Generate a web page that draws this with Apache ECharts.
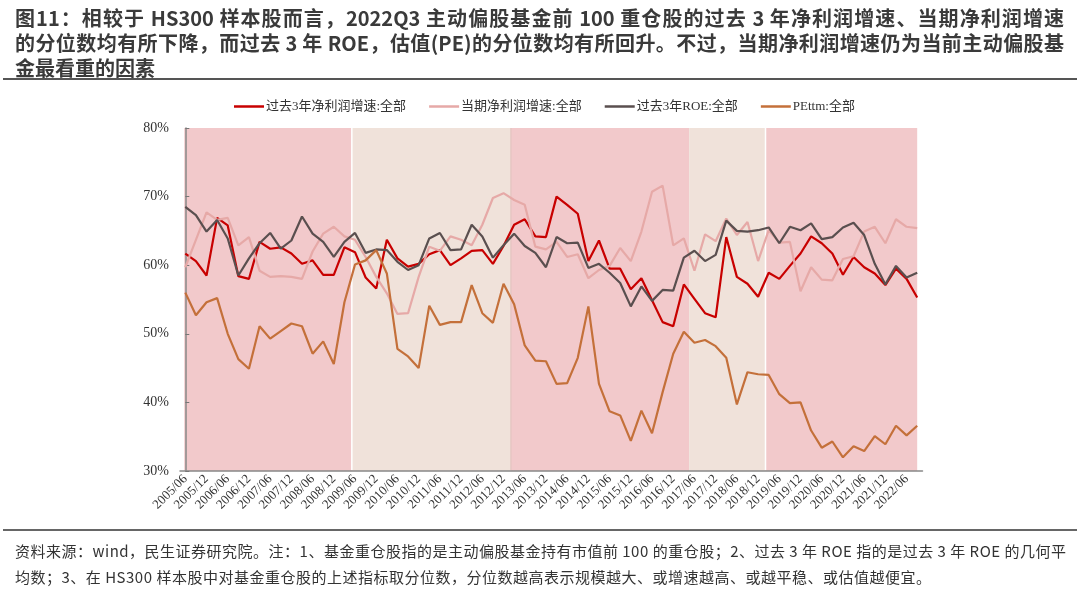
<!DOCTYPE html>
<html>
<head>
<meta charset="utf-8">
<script src="https://cdn.jsdelivr.net/npm/echarts@6/dist/echarts.min.js"></script>
<style>
  html, body { margin: 0; padding: 0; background: #fff; }
  #wrap { position: relative; width: 1080px; height: 590px; overflow: hidden; }
  #chart { position: absolute; left: 0; top: 0; width: 1080px; height: 590px; }
  #title { position: absolute; left: 15px; top: 5px; width: 1049px; font-family: "Noto Sans CJK SC", "Noto Sans", sans-serif; font-weight: bold; font-size: 20px; line-height: 25px; color: #3a3a3a; white-space: nowrap; }
  #title .j { text-align: justify; text-align-last: justify; white-space: normal; }
  #rule1 { position: absolute; left: 3px; width: 1074px; top: 78px; height: 2px; background: #555; }
  #rule2 { position: absolute; left: 3px; width: 1074px; top: 529px; height: 2px; background: #666; }
  #note { position: absolute; left: 15px; top: 538px; font-family: "Noto Sans CJK SC", "Noto Sans", sans-serif; font-size: 15px; line-height: 26px; letter-spacing: 0.5px; color: #333; white-space: nowrap; }
</style>
</head>
<body>
<div id="wrap">
  <div id="chart"></div>
  <div id="title"><div class="j">图11：相较于 HS300 样本股而言，2022Q3 主动偏股基金前 100 重仓股的过去 3 年净利润增速、当期净利润增速</div><div class="j">的分位数均有所下降，而过去 3 年 ROE，估值(PE)的分位数均有所回升。不过，当期净利润增速仍为当前主动偏股基</div><div>金最看重的因素</div></div>
  <div id="rule1"></div>
  <div id="rule2"></div>
  <div id="note">资料来源：wind，民生证券研究院。注：1、基金重仓股指的是主动偏股基金持有市值前 100 的重仓股；2、过去 3 年 ROE 指的是过去 3 年 ROE 的几何平<br>均数；3、在 HS300 样本股中对基金重仓股的上述指标取分位数，分位数越高表示规模越大、或增速越高、或越平稳、或估值越便宜。</div>
</div>
<script>
// ---- data ----
var categories = [
  "2005/06","2005/09","2005/12","2006/03","2006/06","2006/09","2006/12","2007/03","2007/06","2007/09",
  "2007/12","2008/03","2008/06","2008/09","2008/12","2009/03","2009/06","2009/09","2009/12","2010/03",
  "2010/06","2010/09","2010/12","2011/03","2011/06","2011/09","2011/12","2012/03","2012/06","2012/09",
  "2012/12","2013/03","2013/06","2013/09","2013/12","2014/03","2014/06","2014/09","2014/12","2015/03",
  "2015/06","2015/09","2015/12","2016/03","2016/06","2016/09","2016/12","2017/03","2017/06","2017/09",
  "2017/12","2018/03","2018/06","2018/09","2018/12","2019/03","2019/06","2019/09","2019/12","2020/03",
  "2020/06","2020/09","2020/12","2021/03","2021/06","2021/09","2021/12","2022/03","2022/06","2022/09"
];
var seriesNames = ["过去3年净利润增速:全部", "当期净利润增速:全部", "过去3年ROE:全部", "PEttm:全部"];

var profitGrowth3Y = [
  61.7,60.6,58.5,66.9,65.8,58.4,58.0,63.4,62.4,62.6,
  61.7,60.2,60.7,58.6,58.6,62.6,61.9,58.2,56.6,63.7,
  61.0,59.8,60.2,61.6,62.2,60.0,61.0,62.1,62.2,60.2,
  62.8,65.9,66.7,64.2,64.1,70.0,68.8,67.5,60.6,63.6,
  59.5,59.5,56.5,58.1,54.9,51.7,51.1,57.2,55.1,53.0,
  52.4,64.1,58.3,57.3,55.4,58.9,58.0,59.9,61.7,64.2,
  63.2,61.7,58.6,61.2,59.7,58.8,57.1,59.5,58.0,55.3
];
var profitGrowthCur = [
  59.7,63.7,67.7,66.6,66.9,62.9,64.1,59.2,58.3,58.4,
  58.3,58.0,62.0,64.6,65.6,64.2,63.7,61.2,58.3,55.9,
  52.9,53.0,58.3,62.7,62.1,64.2,63.7,62.9,65.9,69.8,
  70.5,69.5,68.8,62.7,62.3,63.4,61.2,61.6,58.1,59.3,
  59.9,62.5,60.6,64.9,70.7,71.6,62.9,63.9,59.2,64.5,
  63.5,66.8,64.4,66.3,60.6,65.1,63.3,63.4,56.2,59.7,
  57.9,57.8,60.9,61.3,64.9,65.6,63.2,66.7,65.6,65.4
];
var roe3Y = [
  68.5,67.3,64.9,66.6,63.9,58.5,61.0,63.2,64.7,62.4,
  63.6,67.1,64.6,63.4,61.2,63.4,64.7,61.8,62.3,62.2,
  60.5,59.3,60.0,63.9,64.7,62.2,62.3,65.9,64.2,61.1,
  62.9,64.6,62.8,61.8,59.7,64.1,63.2,63.3,59.6,60.2,
  58.9,57.4,54.0,56.9,54.8,56.4,56.3,61.1,62.1,60.6,
  61.5,66.5,65.0,64.9,65.1,65.5,63.2,65.6,65.1,66.1,
  63.8,64.1,65.5,66.2,64.4,60.2,57.2,59.9,58.2,58.9
];
var peTTM = [
  56.0,52.7,54.6,55.2,50.0,46.3,44.9,51.1,49.3,50.4,
  51.5,51.1,47.1,48.9,45.6,54.6,60.1,60.7,62.2,58.8,
  47.8,46.7,45.0,54.1,51.3,51.7,51.7,57.1,53.0,51.6,
  57.3,54.3,48.3,46.1,46.0,42.7,42.8,46.5,54.0,42.7,
  38.7,38.1,34.4,38.8,35.5,41.5,47.1,50.3,48.7,49.1,
  48.2,46.5,39.7,44.4,44.1,44.0,41.2,39.9,40.0,35.9,
  33.4,34.3,32.0,33.6,32.9,35.1,33.9,36.6,35.2,36.6
];
// shaded periods (category index positions), kind 0 = pink, 1 = beige
var bandFrom = [-0.1, 15.7, 30.7, 47.5, 54.7];
var bandTo   = [15.7, 30.7, 47.5, 54.7, 69.0];
var bandKind = [0, 1, 0, 1, 0];
var yTicks = [30, 40, 50, 60, 70, 80];

// ---- chart ----
var bandColors = ['#f2c9cb', '#f0e2da'];
var sepColors = [null, '#ffffff', '#e6c6c3', null, '#ffffff'];
var bandData = bandFrom.map(function (f, i) { return [f, bandTo[i], bandKind[i], i]; });
var lineColors = ['#c80000', '#e6a9a7', '#5a4f4f', '#c4703a'];
var serif = '"Liberation Serif", "DejaVu Serif", "Noto Sans CJK SC", serif';

var chart = echarts.init(document.getElementById('chart'), null, { renderer: 'canvas' });
var seriesData = [profitGrowth3Y, profitGrowthCur, roe3Y, peTTM];
var lineSeries = seriesNames.map(function (n, k) {
  return {
    name: n, type: 'line', data: seriesData[k], symbol: 'none', smooth: false,
    lineStyle: { width: 2.2, color: lineColors[k] }, itemStyle: { color: lineColors[k] },
    z: 3
  };
});
var option = {
  animation: false,
  backgroundColor: 'transparent',
  legend: {
    data: seriesNames, left: 229, top: 95, icon: 'rect', itemWidth: 30, itemHeight: 2.5, itemGap: 23,
    textStyle: { fontFamily: serif, fontSize: 13, color: '#333', padding: [0, 0, 0, -3] }
  },
  grid: { left: 180, top: 128, width: 742.5, height: 343, containLabel: false },
  xAxis: [{
    type: 'category', data: categories, boundaryGap: true,
    axisLine: { lineStyle: { color: '#888', width: 1.5 } },
    axisTick: { inside: true, length: 4, interval: 0, lineStyle: { color: '#777' } },
    axisLabel: { interval: 1, rotate: 45, fontFamily: serif, fontSize: 13, color: '#333', margin: 6 },
    splitLine: { show: false }
  }, {
    type: 'value', min: -0.5, max: 69.5, show: false
  }],
  yAxis: {
    type: 'value', min: yTicks[0], max: yTicks[yTicks.length - 1], interval: 10,
    axisLine: { show: true, lineStyle: { color: '#888', width: 1.5 } },
    axisTick: { show: true, inside: true, length: 4, lineStyle: { color: '#777' } },
    axisLabel: { formatter: '{value}%', fontFamily: serif, fontSize: 14, color: '#333', margin: 11 },
    splitLine: { show: false }
  },
  series: [{
    type: 'custom', xAxisIndex: 1, yAxisIndex: 0, z: -1, silent: true, clip: true,
    data: bandData,
    encode: { x: [0, 1] },
    renderItem: function (params, api) {
      var p0 = api.coord([api.value(0), yTicks[yTicks.length - 1]]);
      var p1 = api.coord([api.value(1), yTicks[0]]);
      var idx = api.value(3);
      var children = [{
        type: 'rect',
        shape: { x: p0[0], y: p0[1], width: p1[0] - p0[0], height: p1[1] - p0[1] },
        style: { fill: bandColors[api.value(2)] }
      }];
      if (sepColors[idx]) {
        children.push({
          type: 'line',
          shape: { x1: p0[0], y1: p0[1], x2: p0[0], y2: p1[1] - 1 },
          style: { stroke: sepColors[idx], lineWidth: 1.5 }
        });
      }
      return { type: 'group', children: children };
    }
  }].concat(lineSeries)
};
chart.setOption(option);
</script>
</body>
</html>
